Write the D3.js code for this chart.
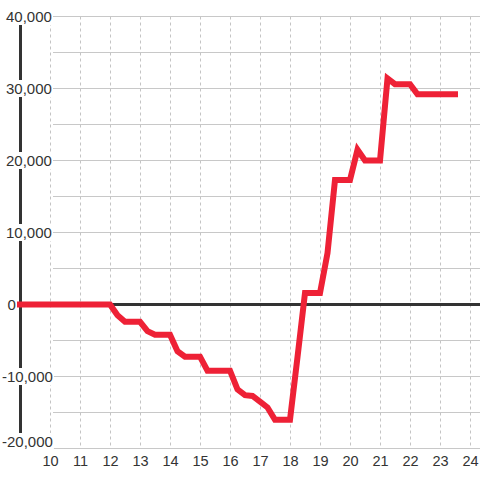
<!DOCTYPE html>
<html>
<head>
<meta charset="utf-8">
<script src="https://cdn.jsdelivr.net/npm/d3@7/dist/d3.min.js"></script>
<style>
  body { margin: 0; background: #fff; }
  text { font-family: "Liberation Sans", Arial, sans-serif; fill: #333; }
</style>
</head>
<body>
<svg id="chart" width="480" height="480"></svg>
<script>
// hours of the day and running balance
var hours = [9, 12, 12.25, 12.5, 13, 13.25, 13.5, 14, 14.25, 14.5, 15, 15.25, 16, 16.25, 16.5, 16.75,
             17, 17.25, 17.5, 18, 18.25, 18.5, 19, 19.25, 19.5, 20, 20.25, 20.5, 21, 21.25, 21.5, 22, 22.25, 23.5];
var balance = [0, 0, -1500, -2400, -2400, -3700, -4200, -4200, -6500, -7250, -7250, -9200, -9200, -11800, -12600, -12700,
               -13500, -14300, -16000, -16000, -7300, 1600, 1600, 7150, 17300, 17300, 21500, 20000, 20000, 31400, 30600, 30600, 29200, 29200];

var xTicks = [10, 11, 12, 13, 14, 15, 16, 17, 18, 19, 20, 21, 22, 23, 24];
var yTicks = [-20000, -10000, 0, 10000, 20000, 30000, 40000];
var yGrid = [-20000, -15000, -10000, -5000, 5000, 10000, 15000, 20000, 25000, 30000, 35000, 40000];

var svg = d3.select("#chart"),
    width = +svg.attr("width"),
    height = +svg.attr("height");

var x = d3.scaleLinear().domain([9, 25]).range([20, 500]);
var y = d3.scaleLinear().domain([-20000, 40000]).range([448.5, 16.5]);

var fmt = d3.format(",");

// vertical dashed grid
svg.append("g").selectAll("line")
    .data(xTicks)
    .enter().append("line")
    .attr("x1", function(d) { return x(d) + 0.5; })
    .attr("x2", function(d) { return x(d) + 0.5; })
    .attr("y1", y(40000))
    .attr("y2", y(-20000))
    .attr("stroke", "#c4c4c4")
    .attr("stroke-dasharray", "3,3");

// horizontal grid
svg.append("g").selectAll("line")
    .data(yGrid)
    .enter().append("line")
    .attr("x1", 53)
    .attr("x2", width)
    .attr("y1", function(d) { return y(d); })
    .attr("y2", function(d) { return y(d); })
    .attr("stroke", "#c8c8c8");

// y axis line
svg.append("line")
    .attr("x1", 20.5).attr("x2", 20.5)
    .attr("y1", y(40000)).attr("y2", y(-20000))
    .attr("stroke", "#333")
    .attr("stroke-width", 3);

// zero line
svg.append("line")
    .attr("x1", 20).attr("x2", width)
    .attr("y1", y(0)).attr("y2", y(0))
    .attr("stroke", "#333")
    .attr("stroke-width", 3);

// y labels with white backing
var yl = svg.append("g").selectAll("g")
    .data(yTicks)
    .enter().append("g");

yl.append("text")
    .attr("x", function(d) { return d < 0 ? 2 : (d === 0 ? 7.5 : 6); })
    .attr("y", function(d) { return d === -20000 ? y(d) - 1.5 : y(d) + 5.5; })
    .style("font-size", "15px")
    .text(function(d) { return fmt(d).replace("−", "-"); })
    .each(function(d) {
        if (d === 0) return;
        var b = this.getBBox();
        d3.select(this.parentNode).insert("rect", "text")
            .attr("x", b.x - 1).attr("y", b.y)
            .attr("width", b.width + 2).attr("height", b.height)
            .attr("fill", "#fff");
    });

// x labels
svg.append("g").selectAll("text")
    .data(xTicks)
    .enter().append("text")
    .attr("x", function(d) { return x(d) + 0.5; })
    .attr("y", 466)
    .attr("text-anchor", "middle")
    .style("font-size", "14.5px")
    .text(function(d) { return d; });

// the line
var line = d3.line()
    .x(function(d, i) { return x(hours[i]); })
    .y(function(d) { return y(d); });

svg.append("path")
    .datum(balance)
    .attr("d", line)
    .attr("fill", "none")
    .attr("stroke", "#ee2136")
    .attr("stroke-width", 6)
    .attr("stroke-linecap", "square");
</script>
</body>
</html>
